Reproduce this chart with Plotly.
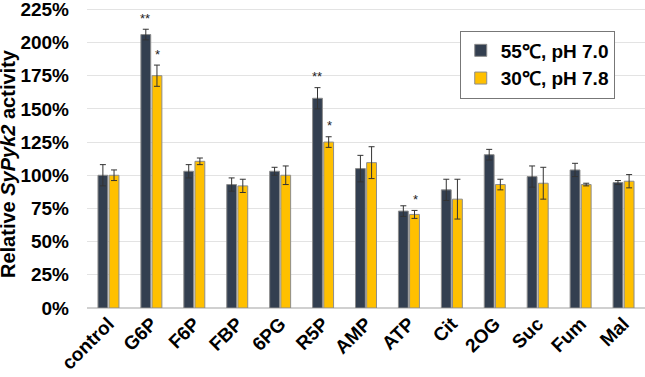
import plotly.graph_objects as go

categories = ["control", "G6P", "F6P", "FBP", "6PG", "R5P", "AMP", "ATP", "Cit", "2OG", "Suc", "Fum", "Mal"]
dark_vals = [100, 206, 103, 93, 103, 158, 105, 73, 89, 115.5, 99, 104, 94.5]
dark_err = [8, 4, 5, 5, 3, 8, 10, 4, 8, 4, 8, 5, 1.5]
yellow_vals = [100, 175, 110.5, 92, 100, 125, 109.5, 70.5, 82, 93, 94, 93, 95.5]
yellow_err = [4, 8, 2.5, 5, 7, 4, 12, 3, 15, 4, 12, 1, 5]
dark_sig = ["", "**", "", "", "", "**", "", "", "", "", "", "", ""]
yellow_sig = ["", "*", "", "", "", "*", "", "*", "", "", "", "", ""]
series_names = ["55℃, pH 7.0", "30℃, pH 7.8"]
y_ticks = [0, 25, 50, 75, 100, 125, 150, 175, 200, 225]
y_title = "<b>Relative <i>SyPyk2</i> activity</b>"

DARK = "#333F50"
YELLOW = "#FFC000"
FONT = "Liberation Sans"

fig = go.Figure()
for name, vals, errs, col in [(series_names[0], dark_vals, dark_err, DARK),
                              (series_names[1], yellow_vals, yellow_err, YELLOW)]:
    fig.add_trace(go.Bar(
        x=categories, y=vals, name="<b>" + name + "</b>",
        marker=dict(color=col, line=dict(color="#8c8c8c", width=1)),
        error_y=dict(type="data", array=errs, color="#333333", thickness=1, width=3),
    ))

annotations = []
for i, c in enumerate(categories):
    for sig, vals, errs, shift in [(dark_sig, dark_vals, dark_err, -6.5), (yellow_sig, yellow_vals, yellow_err, 6.5)]:
        if sig[i]:
            annotations.append(dict(x=c, y=vals[i] + errs[i], xref="x", yref="y",
                                    text=sig[i], showarrow=False, xshift=shift, yshift=11,
                                    font=dict(family=FONT, size=13, color="#222")))
annotations.append(dict(x=0, y=0.5, xref="paper", yref="paper", xanchor="center", yanchor="middle",
                        xshift=-79, yshift=-6, text=y_title, textangle=-90, showarrow=False,
                        font=dict(family=FONT, size=20, color="black")))

fig.update_layout(
    width=645, height=377,
    margin=dict(l=87, r=0, t=8, b=69, autoexpand=False),
    paper_bgcolor="white", plot_bgcolor="white",
    barmode="group", bargap=0.48, bargroupgap=0.12,
    font=dict(family=FONT, color="black"),
    showlegend=True,
    legend=dict(x=0.668, y=0.925, xanchor="left", yanchor="top",
                bordercolor="#777", borderwidth=1, bgcolor="white",
                font=dict(family=FONT, size=19, color="black")),
    annotations=annotations,
)
fig.update_xaxes(tickangle=-45, tickfont=dict(family=FONT, size=19, weight="bold"),
                 showline=False, ticks="")
fig.update_yaxes(range=[0, 226], tickvals=y_ticks,
                 ticktext=["%d%%" % v for v in y_ticks],
                 tickfont=dict(family=FONT, size=19, weight="bold"),
                 ticklabelstandoff=17, ticklabeloverflow="allow",
                 showgrid=True, gridcolor="#e3e3e3", zeroline=True, zerolinecolor="#d0d0d0")

fig.write_html("out.html", config={"displayModeBar": False},
               post_script="document.body.style.margin='0';")
